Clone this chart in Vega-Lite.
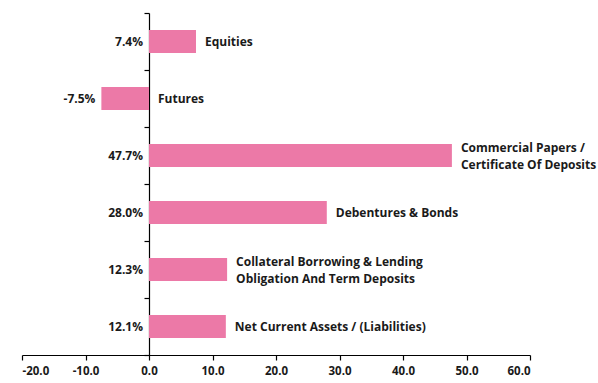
{
  "$schema": "https://vega.github.io/schema/vega-lite/v6.json",
  "width": 508,
  "height": 342,
  "autosize": {"type": "none"},
  "padding": {"left": 22, "top": 13, "right": 68, "bottom": 28},
  "background": "white",
  "data": {
    "values": [
      {"category": "Equities", "value": 7.4},
      {"category": "Futures", "value": -7.5},
      {"category": "Commercial Papers /\nCertificate Of Deposits", "value": 47.7},
      {"category": "Debentures & Bonds", "value": 28.0},
      {"category": "Collateral Borrowing & Lending\nObligation And Term Deposits", "value": 12.3},
      {"category": "Net Current Assets / (Liabilities)", "value": 12.1}
    ]
  },
  "transform": [
    {"calculate": "replace(format(datum.value, '.1f'), '\u2212', '-') + '%'", "as": "pct"},
    {"calculate": "max(datum.value, 0)", "as": "labelX"},
    {"calculate": "min(datum.value, 0)", "as": "valueX"},
    {"calculate": "indexof(datum.category, '\\n') >= 0", "as": "multi"}
  ],
  "config": {
    "view": {"stroke": null},
    "font": "Open Sans"
  },
  "encoding": {
    "y": {
      "field": "category",
      "type": "nominal",
      "sort": null,
      "scale": {"paddingInner": 0, "paddingOuter": 0},
      "axis": {
        "labels": false,
        "title": null,
        "offset": -127,
        "tickBand": "extent",
        "tickSize": 5,
        "tickColor": "#000000",
        "domainColor": "#000000",
        "tickWidth": 1.2,
        "domainWidth": 1.2,
        "grid": false
      }
    }
  },
  "layer": [
    {
      "mark": {"type": "bar", "color": "#EC79A7", "size": 23},
      "encoding": {
        "x": {
          "field": "value",
          "type": "quantitative",
          "scale": {"domain": [-20, 60], "nice": false},
          "axis": {
            "values": [-20, -10, 0, 10, 20, 30, 40, 50, 60],
            "labelExpr": "replace(format(datum.value, '.1f'), '\u2212', '-')",
            "title": null,
            "grid": false,
            "tickSize": 5,
            "tickColor": "#000000",
            "domainColor": "#000000",
            "tickWidth": 1.2,
            "domainWidth": 1.2,
            "labelColor": "#1a1a1a",
            "labelFontWeight": "bold",
            "labelFontSize": 11.5,
            "labelPadding": 5,
            "labelFont": "Open Sans"
          }
        }
      }
    },
    {
      "mark": {"type": "text", "align": "right", "baseline": "middle", "dx": -6, "fontWeight": "bold", "fontSize": 12, "color": "#1a1a1a"},
      "encoding": {
        "x": {"field": "valueX", "type": "quantitative"},
        "text": {"field": "pct"}
      }
    },
    {
      "transform": [{"filter": "!datum.multi"}],
      "mark": {"type": "text", "align": "left", "baseline": "middle", "dx": 9, "fontWeight": "bold", "fontSize": 12, "color": "#1a1a1a"},
      "encoding": {
        "x": {"field": "labelX", "type": "quantitative"},
        "text": {"field": "category"}
      }
    },
    {
      "transform": [{"filter": "datum.multi"}],
      "mark": {"type": "text", "align": "left", "baseline": "middle", "dx": 9, "dy": -8, "fontWeight": "bold", "fontSize": 12, "color": "#1a1a1a", "lineBreak": "\n", "lineHeight": 17},
      "encoding": {
        "x": {"field": "labelX", "type": "quantitative"},
        "text": {"field": "category"}
      }
    }
  ]
}
